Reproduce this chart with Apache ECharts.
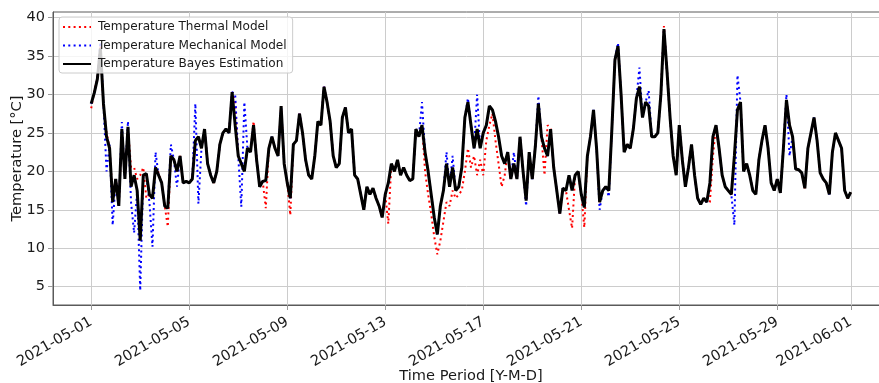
<!DOCTYPE html>
<html>
<head>
<meta charset="utf-8">
<script src="https://cdn.jsdelivr.net/npm/echarts@6/dist/echarts.min.js"></script>
<style>
  html, body { margin: 0; padding: 0; background: #ffffff; }
  #chart { width: 879px; height: 383px; }
</style>
</head>
<body>
<div id="chart"></div>
<script>
// Sampling: one value every 3 hours, starting at midnight of the first day.
const startDay = '2021-05-01';
const stepHours = 3;

const tickLabels = ['2021-05-01', '2021-05-05', '2021-05-09', '2021-05-13', '2021-05-17',
                    '2021-05-21', '2021-05-25', '2021-05-29', '2021-06-01'];
const yTicks = [5, 10, 15, 20, 25, 30, 35, 40];

const seriesNames = ['Temperature Thermal Model', 'Temperature Mechanical Model', 'Temperature Bayes Estimation'];

// Bayes estimate (°C), 8 samples per day
const bayes = [
  28.8, 30.2, 32.0, 36.0, 28.8, 24.5, 23.0, 16.0,  // 05-01
  19.0, 15.5, 25.5, 19.0, 25.8, 18.0, 19.5, 17.5,  // 05-02
  11.0, 19.5, 19.7, 17.0, 16.5, 20.5, 19.5, 18.5,  // 05-03
  15.5, 15.2, 22.0, 21.5, 20.0, 22.0, 18.5, 18.7,  // 05-04
  18.5, 19.0, 24.0, 24.5, 23.0, 25.5, 21.0, 19.5,  // 05-05
  18.5, 20.0, 23.5, 25.0, 25.5, 25.0, 30.3, 26.0,  // 05-06
  22.0, 21.0, 20.0, 23.0, 22.5, 26.0, 21.5, 18.0,  // 05-07
  18.7, 18.8, 23.0, 24.5, 23.0, 22.0, 28.5, 21.0,  // 05-08
  18.5, 16.5, 23.5, 24.0, 27.5, 25.0, 21.5, 19.5,  // 05-09
  19.0, 22.0, 26.5, 26.0, 31.0, 29.0, 26.5, 22.0,  // 05-10
  20.5, 21.0, 27.0, 28.3, 25.0, 25.5, 19.5, 19.0,  // 05-11
  17.0, 15.0, 18.0, 17.0, 17.8, 16.5, 15.5, 14.0,  // 05-12
  17.0, 18.5, 21.0, 20.0, 21.5, 19.5, 20.5, 19.5,  // 05-13
  18.8, 19.0, 25.5, 24.5, 26.0, 22.5, 20.0, 17.0,  // 05-14
  14.0, 11.8, 15.5, 17.5, 21.0, 18.0, 20.5, 17.5,  // 05-15
  18.0, 20.5, 27.0, 29.0, 26.0, 23.0, 25.5, 23.0,  // 05-16
  25.0, 26.0, 28.5, 28.0, 26.5, 24.5, 22.0, 21.0,  // 05-17
  22.5, 19.0, 21.0, 19.0, 24.5, 20.0, 16.2, 22.5,  // 05-18
  19.0, 23.2, 28.8, 24.5, 23.0, 22.0, 25.5, 20.5,  // 05-19
  17.5, 14.5, 17.8, 17.5, 19.5, 17.5, 19.5, 20.0,  // 05-20
  17.0, 15.3, 22.0, 24.5, 28.0, 23.0, 16.0, 17.5,  // 05-21
  18.0, 17.5, 25.5, 34.5, 36.3, 30.0, 22.5, 23.5,  // 05-22
  23.0, 25.5, 29.5, 31.0, 27.0, 29.0, 28.5, 24.5,  // 05-23
  24.5, 25.0, 30.0, 38.5, 33.0, 27.0, 22.0, 19.5,  // 05-24
  26.0, 21.5, 18.0, 20.5, 23.5, 19.5, 16.5, 15.7,  // 05-25
  16.5, 16.0, 18.5, 24.5, 26.0, 23.0, 19.5, 18.0,  // 05-26
  17.5, 17.0, 22.0, 28.0, 29.0, 20.0, 21.0, 19.5,  // 05-27
  17.5, 17.0, 21.5, 24.0, 26.0, 23.0, 18.5, 17.5,  // 05-28
  19.0, 17.2, 23.0, 29.3, 26.0, 24.5, 20.3, 20.2,  // 05-29
  19.8, 17.8, 23.0, 25.0, 27.0, 24.0, 19.8, 19.0,  // 05-30
  18.5, 17.0, 22.5, 25.0, 24.0, 23.0, 17.5, 16.5,  // 05-31
  17.3                                             // 06-01
];

// Thermal model (°C)
const thermal = [
  28.2, 30.5, 32.0, 36.3, 28.5, 25.0, 23.0, 16.5,
  19.0, 15.5, 25.0, 19.5, 25.5, 20.5, 20.5, 19.0,
  19.5, 20.5, 16.5, 17.0, 16.5, 20.5, 19.8, 18.5,
  15.5, 12.8, 22.0, 21.5, 20.0, 22.0, 18.5, 18.7,
  18.5, 19.0, 24.0, 24.5, 23.0, 25.5, 21.0, 19.5,
  18.5, 20.0, 23.5, 25.0, 25.5, 25.0, 30.3, 29.0,
  22.0, 21.0, 20.0, 23.0, 22.5, 26.5, 21.5, 18.0,
  18.7, 15.2, 23.0, 24.5, 23.0, 22.0, 28.5, 21.0,
  18.5, 14.3, 23.5, 24.0, 27.5, 25.0, 21.5, 19.5,
  19.0, 22.0, 26.5, 26.0, 31.0, 29.0, 26.5, 22.0,
  20.5, 21.0, 27.0, 28.3, 25.0, 25.5, 19.5, 19.0,
  17.0, 15.0, 18.0, 17.0, 17.8, 16.5, 15.5, 14.0,
  17.0, 13.2, 21.0, 20.0, 21.5, 19.5, 20.5, 19.5,
  18.8, 19.0, 25.5, 24.5, 26.0, 20.0, 17.0, 14.5,
  11.5,  9.2, 11.0, 13.5, 16.0, 15.5, 17.5, 16.5,
  17.0, 17.5, 20.0, 23.0, 20.5, 22.0, 19.5, 21.5,
  19.5, 24.0, 26.0, 27.5, 24.0, 21.0, 18.0, 19.5,
  22.5, 19.0, 21.0, 19.0, 24.5, 20.0, 16.2, 22.5,
  19.0, 23.2, 28.8, 24.5, 19.5, 26.0, 25.5, 20.5,
  17.5, 14.5, 17.8, 17.5, 15.0, 12.6, 19.5, 20.0,
  17.0, 12.7, 22.0, 24.5, 28.0, 23.0, 16.0, 17.5,
  18.0, 17.5, 25.5, 34.5, 36.3, 30.0, 22.5, 23.5,
  23.0, 25.5, 29.5, 31.0, 27.0, 29.0, 28.5, 24.5,
  24.5, 25.0, 30.0, 38.9, 33.0, 27.0, 22.0, 19.5,
  26.0, 21.5, 18.0, 20.5, 23.5, 19.5, 16.5, 15.7,
  16.5, 16.0, 16.0, 22.0, 26.0, 23.0, 19.5, 18.0,
  17.5, 17.0, 22.0, 28.0, 29.0, 20.0, 21.0, 19.5,
  17.5, 17.0, 21.5, 24.0, 26.0, 23.0, 18.5, 17.5,
  19.0, 17.2, 23.0, 29.3, 26.0, 24.5, 20.3, 20.2,
  19.8, 17.8, 23.0, 25.0, 27.0, 24.0, 19.8, 19.0,
  18.5, 17.0, 22.5, 25.0, 24.0, 23.0, 17.5, 16.5,
  17.3
];

// Mechanical model (°C)
const mechanical = [
  28.8, 30.2, 32.0, 36.8, 28.8, 20.0, 23.5, 13.0,
  19.0, 15.5, 26.4, 19.0, 26.5, 16.0, 12.0, 17.5,
   4.5, 19.5, 19.7, 16.0, 10.2, 22.5, 19.5, 18.5,
  15.5, 15.2, 23.5, 21.5, 18.0, 22.0, 18.5, 18.7,
  18.5, 19.0, 28.8, 15.8, 23.0, 25.5, 21.0, 19.5,
  18.5, 20.0, 23.5, 25.0, 25.5, 25.0, 30.3, 30.0,
  22.0, 15.4, 29.0, 23.0, 22.5, 26.0, 21.5, 18.0,
  18.7, 18.8, 23.0, 24.5, 23.0, 22.0, 28.5, 21.0,
  18.5, 16.5, 23.5, 24.0, 27.5, 25.0, 21.5, 19.5,
  19.0, 22.0, 26.5, 26.0, 31.0, 29.0, 26.5, 22.0,
  20.5, 21.0, 27.0, 28.3, 25.0, 25.5, 19.5, 19.0,
  17.0, 15.0, 18.0, 17.0, 17.8, 16.5, 15.5, 14.0,
  17.0, 18.5, 21.0, 20.0, 21.5, 19.5, 20.5, 19.5,
  18.8, 19.0, 25.5, 24.5, 29.0, 22.5, 20.0, 17.0,
  14.0, 11.8, 15.5, 17.5, 22.5, 18.0, 22.0, 17.5,
  18.0, 20.5, 27.0, 29.5, 26.0, 23.0, 30.0, 23.0,
  25.0, 26.0, 28.5, 28.0, 26.5, 24.5, 22.0, 21.0,
  22.5, 19.0, 22.5, 19.0, 24.5, 20.0, 15.5, 22.5,
  19.0, 23.2, 29.8, 24.5, 23.0, 22.0, 25.5, 20.5,
  17.5, 14.5, 17.8, 17.5, 19.5, 17.5, 19.5, 20.0,
  17.0, 15.3, 22.0, 24.5, 28.0, 23.0, 15.0, 17.5,
  18.0, 16.7, 25.5, 34.5, 36.7, 30.0, 22.5, 23.5,
  23.0, 25.5, 29.5, 33.5, 27.0, 29.0, 30.5, 24.5,
  24.5, 25.0, 30.0, 38.5, 33.0, 27.0, 22.0, 19.5,
  26.0, 21.5, 18.0, 20.5, 23.5, 19.5, 16.5, 15.7,
  16.5, 16.0, 18.5, 24.5, 26.0, 23.0, 19.5, 18.0,
  17.5, 17.0, 13.0, 32.5, 29.0, 20.0, 21.0, 19.5,
  17.5, 17.0, 21.5, 24.0, 26.0, 23.0, 18.5, 17.5,
  19.0, 17.2, 23.0, 30.0, 22.0, 24.5, 20.3, 20.2,
  19.8, 17.8, 23.0, 25.0, 27.0, 24.0, 19.8, 19.0,
  18.5, 17.0, 22.5, 25.0, 24.0, 23.0, 17.5, 16.5,
  17.3
];

const FONT = 'DejaVu Sans';
const TEXT = '#1a1a1a';
const DAY_MS = 86400000;

function localDay(s) {
  const [y, m, d] = s.split('-').map(Number);
  return new Date(y, m - 1, d).getTime();
}

const t0 = localDay(startDay);
const tickValues = tickLabels.map(localDay);
const times = bayes.map((_, i) => t0 + i * stepHours * 3600000);
const toPairs = arr => arr.map((v, i) => [times[i], v]);

function dateLabel(v) {
  const i = tickValues.findIndex(t => Math.abs(t - v) < 60000);
  return i >= 0 ? tickLabels[i] : '';
}

const chart = echarts.init(document.getElementById('chart'), null, { renderer: 'canvas' });

chart.setOption({
  animation: false,
  backgroundColor: '#ffffff',
  textStyle: { fontFamily: FONT },
  grid: {
    left: 53, top: 12, right: -10, bottom: 78,
    outerBoundsMode: 'none',
    containLabel: false,
    show: true, borderColor: '#5a5a5a', borderWidth: 1
  },
  legend: {
    orient: 'vertical',
    left: 59, top: 17,
    itemWidth: 28, itemHeight: 12, itemGap: 6.5,
    padding: [4, 6, 3, 3],
    backgroundColor: 'rgba(255,255,255,0.8)',
    borderColor: '#cccccc', borderWidth: 1, borderRadius: 3,
    itemStyle: { opacity: 0 },
    textStyle: { fontFamily: FONT, fontSize: 12.1, color: TEXT, padding: [0, 0, 0, 2] },
    data: seriesNames
  },
  xAxis: {
    type: 'value',
    min: t0 - 1.56 * DAY_MS,
    max: t0 + 32.56 * DAY_MS,
    name: 'Time Period [Y-M-D]',
    nameLocation: 'middle',
    nameGap: 64,
    nameMoveOverlap: false,
    nameTextStyle: { fontFamily: FONT, fontSize: 14.6, color: TEXT, verticalAlign: 'top' },
    axisLine: { show: true, lineStyle: { color: '#5a5a5a', width: 1 } },
    axisTick: { show: true, length: 5, lineStyle: { color: '#9a9a9a' }, customValues: tickValues },
    axisLabel: {
      customValues: tickValues,
      formatter: dateLabel,
      rotate: 30, align: 'right', verticalAlign: 'middle', margin: 16,
      fontFamily: FONT, fontSize: 14.5, color: TEXT
    },
    splitLine: { show: true, lineStyle: { color: '#cccccc', width: 1 } }
  },
  yAxis: {
    type: 'value',
    min: 2.62, max: 40.72,
    name: 'Temperature [°C]',
    nameLocation: 'middle',
    nameGap: 28,
    nameMoveOverlap: false,
    nameTextStyle: { fontFamily: FONT, fontSize: 14.6, color: TEXT },
    axisLine: { show: true, lineStyle: { color: '#5a5a5a', width: 1 } },
    axisTick: { show: true, length: 5, lineStyle: { color: '#9a9a9a' }, customValues: yTicks },
    axisLabel: {
      customValues: yTicks,
      margin: 8,
      fontFamily: FONT, fontSize: 14.5, color: TEXT
    },
    splitLine: { show: true, lineStyle: { color: '#cccccc', width: 1 } }
  },
  series: [
    {
      name: seriesNames[0], type: 'line', data: toPairs(thermal),
      symbol: 'none',
      lineStyle: { color: '#ff0000', width: 2, type: [2, 3.3] },
      itemStyle: { color: '#ff0000' }
    },
    {
      name: seriesNames[1], type: 'line', data: toPairs(mechanical),
      symbol: 'none',
      lineStyle: { color: '#0000ff', width: 2, type: [2, 3.3] },
      itemStyle: { color: '#0000ff' }
    },
    {
      name: seriesNames[2], type: 'line', data: toPairs(bayes),
      symbol: 'none',
      lineStyle: { color: '#000000', width: 3 },
      itemStyle: { color: '#000000' }
    }
  ]
});
</script>
</body>
</html>
